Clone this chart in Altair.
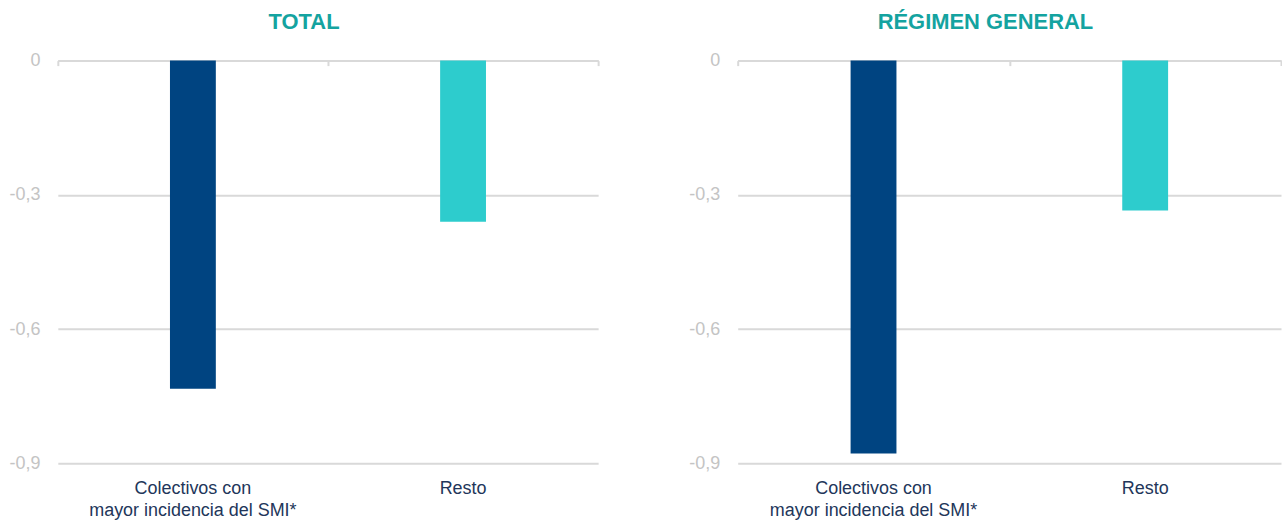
import altair as alt
import pandas as pd

categories = ["Colectivos con mayor incidencia del SMI*", "Resto"]
total_values = [-0.733, -0.360]
rg_values = [-0.878, -0.335]
panel_titles = ["TOTAL", "RÉGIMEN GENERAL"]
y_ticks = [0, -0.3, -0.6, -0.9]
bar_colors = ["#004481", "#2dcccd"]

FONT = "Liberation Sans"
GRID = "#d9d9d9"
H = 404

label_expr = ("datum.value == 'Colectivos con mayor incidencia del SMI*' ? "
              "['Colectivos con', 'mayor incidencia del SMI*'] : datum.label")


def panel(values, title, width):
    df = pd.DataFrame({"cat": categories, "val": values})
    base = alt.Chart(df)
    xscale = alt.Scale(domain=categories, paddingInner=0, paddingOuter=0)
    yscale = alt.Scale(domain=[-0.9, 0], nice=False)
    bars = base.mark_bar(size=46).encode(
        x=alt.X("cat:N", sort=categories, scale=xscale,
                axis=alt.Axis(title=None, labelAngle=0, domain=False, ticks=False,
                              labelExpr=label_expr, labelFont=FONT, labelFontSize=18,
                              labelColor="#22365a", labelPadding=25, labelLineHeight=22,
                              labelBaseline="middle", labelLimit=0)),
        y=alt.Y("val:Q", scale=yscale,
                axis=alt.Axis(title=None, values=y_ticks, domain=False, ticks=False,
                              labelExpr="replace(toString(datum.value), '.', ',')",
                              labelFont=FONT, labelFontSize=18, labelColor="#c4c4c4",
                              labelPadding=18, gridColor=GRID, gridWidth=2,
                              minExtent=49, maxExtent=49)),
        color=alt.Color("cat:N", scale=alt.Scale(domain=categories, range=bar_colors),
                        legend=None),
    )
    ticks = base.mark_bar(opacity=0).encode(
        x=alt.X("cat:N", sort=categories, scale=xscale,
                axis=alt.Axis(title=None, labels=False, orient="bottom", offset=-H,
                              domain=True, domainColor=GRID, domainWidth=2,
                              ticks=True, tickBand="extent", tickSize=5,
                              tickColor=GRID, tickWidth=2)),
    )
    return alt.layer(bars, ticks).resolve_axis(x="independent").properties(
        width=width, height=H,
        title=alt.TitleParams(title, font=FONT, fontSize=22, fontWeight="bold",
                              color="#14a3a0", anchor="middle", offset=18, dx=-24),
    )


left = panel(total_values, panel_titles[0], 542)
right = panel(rg_values, panel_titles[1], 545)

chart = alt.hconcat(left, right, spacing=89).properties(
    padding={"left": 8, "top": 10, "right": 0, "bottom": 0},
    background="white",
).configure_view(stroke=None)

chart.save("out.html", embed_options={"renderer": "svg", "actions": False})
